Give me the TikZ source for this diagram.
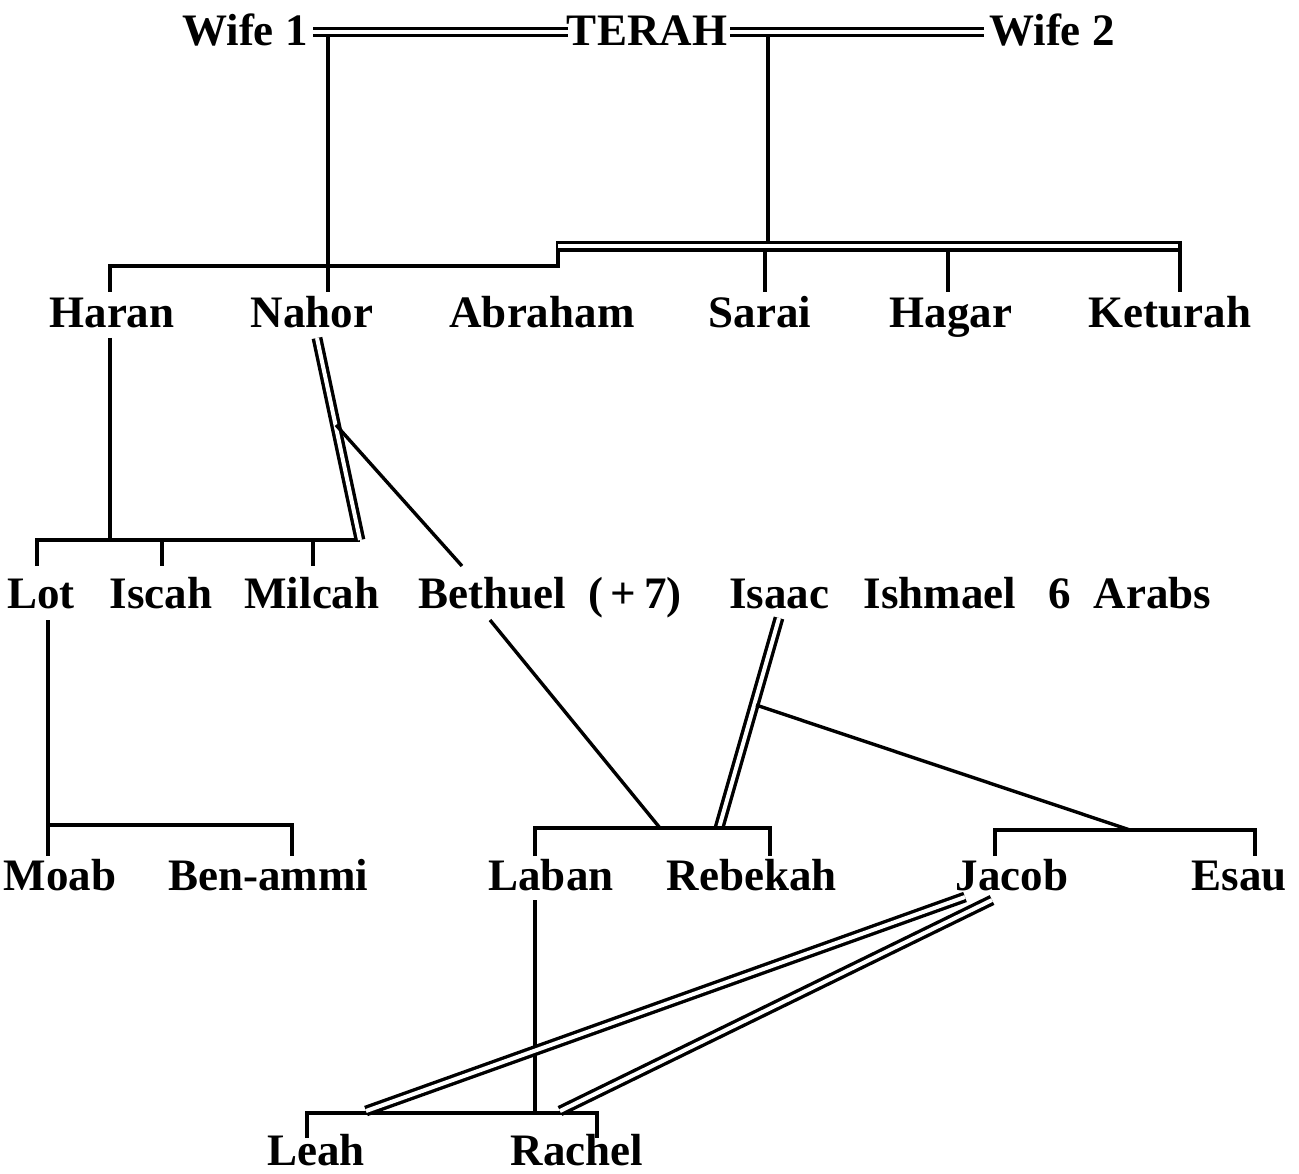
\documentclass[tikz,border=0pt]{standalone}
\usepackage{fontspec}
\setmainfont{Liberation Serif}
\begin{document}
\begin{tikzpicture}[x=1pt,y=-1pt,
  lbl/.style={anchor=base,inner sep=0pt,font=\fontsize{45}{45}\selectfont\bfseries},
  ln/.style={line width=3.4pt,line join=miter},
  dbl/.style={double,double distance=4pt,line width=3.4pt}]
\useasboundingbox (0,0) rectangle (1299,1174);
% row 0
\node[lbl] (wife1) at (245,46) {Wife 1};
\node[lbl] (terah) at (647,46) {TERAH};
\node[lbl] (wife2) at (1052,46) {Wife 2};
% row 1
\node[lbl] (haran) at (112,328) {Haran};
\node[lbl] (nahor) at (312,328) {Nahor};
\node[lbl] (abraham) at (542,328) {Abraham};
\node[lbl] (sarai) at (760,328) {Sarai};
\node[lbl] (hagar) at (951,328) {Hagar};
\node[lbl] (keturah) at (1170,328) {Keturah};
% row 2
\node[lbl] (lot) at (41,608) {Lot};
\node[lbl] (iscah) at (161,608) {Iscah};
\node[lbl] (milcah) at (312,608) {Milcah};
\node[lbl] (bethuel) at (550,608) {Bethuel\ \ (\,+\,7)};
\node[lbl] (isaac) at (779,608) {Isaac};
\node[lbl] (ishmael) at (940,608) {Ishmael};
\node[lbl] (arabs) at (1130,608) {6\ \ Arabs};
% row 3
\node[lbl] (moab) at (60,890) {Moab};
\node[lbl] (benammi) at (268,890) {Ben-ammi};
\node[lbl] (laban) at (551,890) {Laban};
\node[lbl] (rebekah) at (752,890) {Rebekah};
\node[lbl] (jacob) at (1012,890) {Jacob};
\node[lbl] (esau) at (1239,890) {Esau};
% row 4
\node[lbl] (leah) at (316,1165) {Leah};
\node[lbl] (rachel) at (577,1165) {Rachel};

% coordinates
\coordinate (w1e) at (313,32);
\coordinate (tw) at (568,32);
\coordinate (te) at (730,32);
\coordinate (w2w) at (984,32);
\coordinate (j1) at (328,36);
\coordinate (j2) at (768,36);
\coordinate (nahorT) at (328,292);
\coordinate (haranT) at (110,292);
\coordinate (h1a) at (110,266);
\coordinate (h1b) at (558,266);
\coordinate (abrT) at (558,241);
\coordinate (dl) at (558,246.5);
\coordinate (dr) at (1180,246.5);
\coordinate (j2b) at (768,243);
\coordinate (ketT) at (1180,292);
\coordinate (ketU) at (1180,241);
\coordinate (saraiU) at (765,251);
\coordinate (saraiT) at (765,292);
\coordinate (hagarU) at (948,251);
\coordinate (hagarT) at (948,292);

\coordinate (haranB) at (110,338);
\coordinate (h2b) at (110,540);
\coordinate (lotT) at (37,566);
\coordinate (lotC) at (37,540);
\coordinate (nahorE) at (360,540);
\coordinate (iscahU) at (162,540);
\coordinate (iscahT) at (162,566);
\coordinate (milU) at (313,540);
\coordinate (milT) at (313,566);
\coordinate (nahorB) at (317,338);
\coordinate (nb) at (336,425);
\coordinate (bethT) at (462,566);

\coordinate (bethB) at (490,620);
\coordinate (lrJ) at (660,828);
\coordinate (isaacB) at (779,618);
\coordinate (isaacE) at (719,828);
\coordinate (ib) at (756,705);
\coordinate (jeJ) at (1130,830);
\coordinate (labT) at (535,856);
\coordinate (labC) at (535,828);
\coordinate (rebC) at (770,828);
\coordinate (rebT) at (770,856);
\coordinate (jacT) at (995,856);
\coordinate (jacC) at (995,830);
\coordinate (esC) at (1255,830);
\coordinate (esT) at (1255,856);
\coordinate (lotB) at (48,620);
\coordinate (moabT) at (48,856);
\coordinate (lotH) at (48,825);
\coordinate (benC) at (292,825);
\coordinate (benT) at (292,856);

\coordinate (labB) at (535,900);
\coordinate (labE) at (535,1113);
\coordinate (leahT) at (307,1138);
\coordinate (leahC) at (307,1113);
\coordinate (racC) at (597,1113);
\coordinate (racT) at (597,1138);
\coordinate (jl) at (965,897);
\coordinate (leahJ) at (366,1111);
\coordinate (jr) at (992,900);
\coordinate (racJ) at (560,1111);

% connectors
\draw[dbl] (w1e) -- (tw);
\draw[dbl] (te) -- (w2w);
\draw[ln] (j1) -- (nahorT);
\draw[ln] (j2) -- (j2b);
\draw[ln] (haranT) -- (h1a) -- (h1b) -- (abrT);
\draw[dbl] (dl) -- (dr);
\draw[ln] (ketU) -- (ketT);
\draw[ln] (saraiU) -- (saraiT);
\draw[ln] (hagarU) -- (hagarT);

\draw[ln] (haranB) -- (h2b);
\draw[ln] (lotT) -- (lotC) -- (nahorE);
\draw[ln] (iscahU) -- (iscahT);
\draw[ln] (milU) -- (milT);
\draw[dbl] (nahorB) -- (nahorE);
\draw[ln] (nb) -- (bethT);

\draw[ln] (bethB) -- (lrJ);
\draw[dbl] (isaacB) -- (isaacE);
\draw[ln] (ib) -- (jeJ);
\draw[ln] (labT) -- (labC) -- (rebC) -- (rebT);
\draw[ln] (jacT) -- (jacC) -- (esC) -- (esT);
\draw[ln] (lotB) -- (moabT);
\draw[ln] (lotH) -- (benC) -- (benT);

\draw[ln] (labB) -- (labE);
\draw[ln] (leahT) -- (leahC) -- (racC) -- (racT);
\draw[dbl] (jl) -- (leahJ);
\draw[dbl] (jr) -- (racJ);
\end{tikzpicture}
\end{document}
